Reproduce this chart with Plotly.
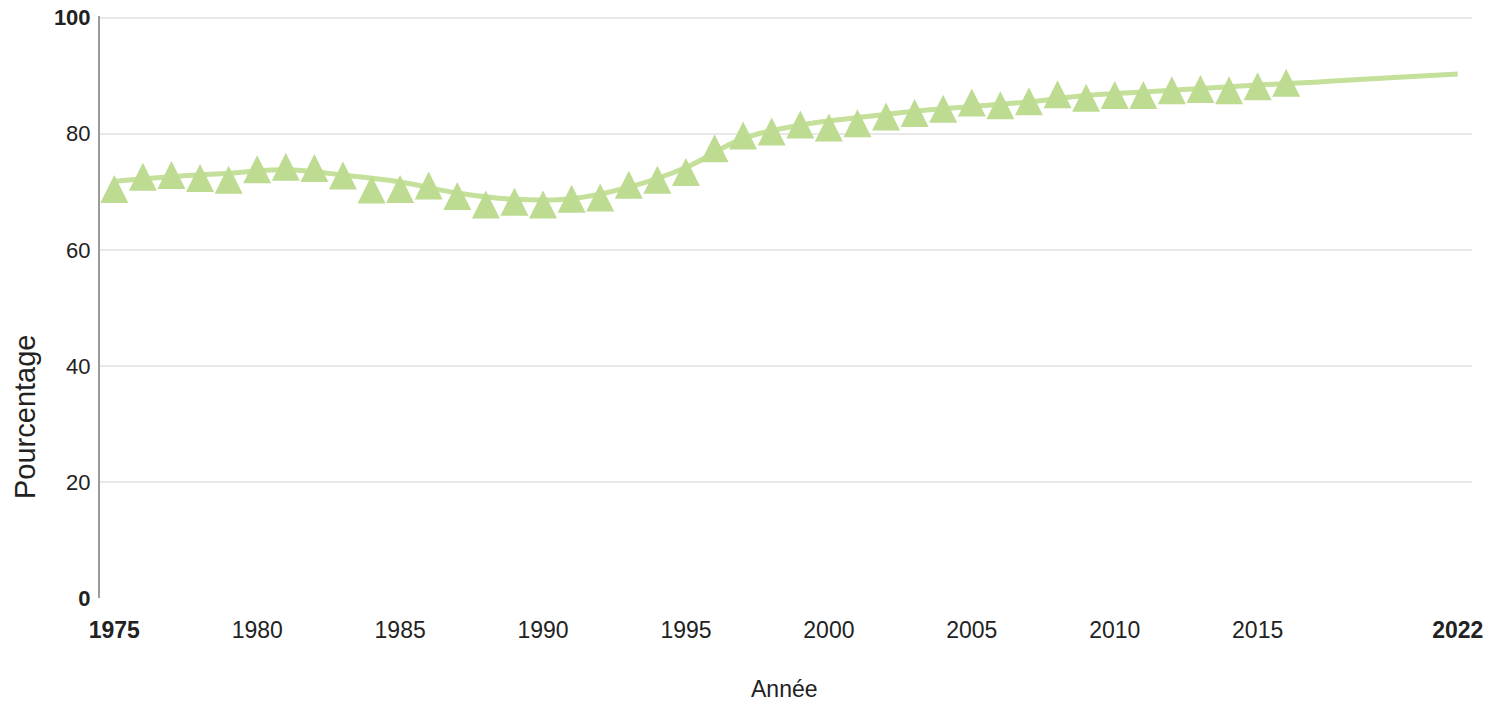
import plotly.graph_objects as go

# Observed yearly values (triangles)
years = list(range(1975, 2017))
values = [70.5, 72.6, 72.9, 72.4, 72.1, 73.9, 74.3, 74.1, 72.8, 70.4,
          70.5, 71.1, 69.3, 67.8, 68.3, 67.8, 68.8, 69.0, 71.2, 72.1,
          73.4, 77.5, 79.7, 80.4, 81.6, 81.1, 81.8, 83.0, 83.6, 84.3,
          85.4, 84.9, 85.6, 86.8, 86.2, 86.7, 86.7, 87.5, 87.7, 87.5,
          88.2, 88.8]

# Smoothed trend line (extends to 2022)
trend_years = [1975, 1977, 1979, 1981, 1983, 1985, 1987, 1989, 1991, 1993,
               1995, 1997, 1999, 2001, 2003, 2005, 2007, 2009, 2011, 2013,
               2015, 2017, 2019, 2022]
trend_values = [71.8, 72.6, 73.2, 73.8, 72.9, 71.7, 69.8, 68.7, 68.8, 70.8,
                74.2, 79.2, 81.5, 82.8, 83.9, 84.7, 85.5, 86.6, 87.2, 87.8,
                88.4, 88.9, 89.5, 90.3]

x_tickvals = [1975, 1980, 1985, 1990, 1995, 2000, 2005, 2010, 2015, 2022]
x_ticktext = ["<b>1975</b>", "1980", "1985", "1990", "1995", "2000", "2005",
              "2010", "2015", "<b>2022</b>"]
y_tickvals = [0, 20, 40, 60, 80, 100]
y_ticktext = ["<b>0</b>", "20", "40", "60", "80", "<b>100</b>"]

x_title = "Année"
y_title = "Pourcentage"

GREEN = "rgb(189,219,145)"
LINE_GREEN = "rgb(196,224,154)"
SANS = "Liberation Sans, Arial, sans-serif"

fig = go.Figure()
fig.add_trace(go.Scatter(
    x=trend_years, y=trend_values, mode="lines",
    line=dict(color=LINE_GREEN, width=5, shape="spline", smoothing=1.0),
    hoverinfo="skip", showlegend=False,
))
fig.add_trace(go.Scatter(
    x=years, y=values, mode="markers",
    marker=dict(symbol="arrow-down", angle=180, standoff=14, size=28,
                color=GREEN, line=dict(width=0)),
    showlegend=False,
))

fig.update_layout(
    width=1509, height=705,
    margin=dict(l=100, r=37, t=16, b=107, autoexpand=False),
    paper_bgcolor="white", plot_bgcolor="white",
    font=dict(family=SANS, color="#222"),
    xaxis=dict(
        range=[1974.5, 2022.5], tickmode="array",
        tickvals=x_tickvals, ticktext=x_ticktext,
        showgrid=False, zeroline=False, showline=False,
        ticks="", ticklabelstandoff=16, automargin=False,
        ticklabeloverflow="allow",
        tickfont=dict(family=SANS, size=23, color="#222"),
    ),
    yaxis=dict(
        range=[0, 100.3], tickmode="array",
        tickvals=y_tickvals, ticktext=y_ticktext,
        showgrid=True, gridcolor="#e8e8e8", gridwidth=2,
        zeroline=False, showline=True, linecolor="#9a9a9a", linewidth=2,
        ticks="", ticklabelstandoff=3, automargin=False,
        ticklabeloverflow="allow",
        tickfont=dict(family=SANS, size=22, color="#222"),
    ),
    annotations=[
        dict(text=y_title, xref="paper", yref="paper",
             x=(25 - 100) / 1372, y=(598 - 417) / 582,
             xanchor="center", yanchor="middle", textangle=-90,
             showarrow=False, font=dict(family=SANS, size=29, color="#222")),
        dict(text=x_title, xref="paper", yref="paper",
             x=(784 - 100) / 1372, y=(598 - 689) / 582,
             xanchor="center", yanchor="middle",
             showarrow=False, font=dict(family=SANS, size=23, color="#222")),
    ],
)

# remove the default 8px page margin so the figure fills the window exactly
fig.write_html("out.html",
               config={"displayModeBar": False},
               post_script="document.body.style.margin='0';")
